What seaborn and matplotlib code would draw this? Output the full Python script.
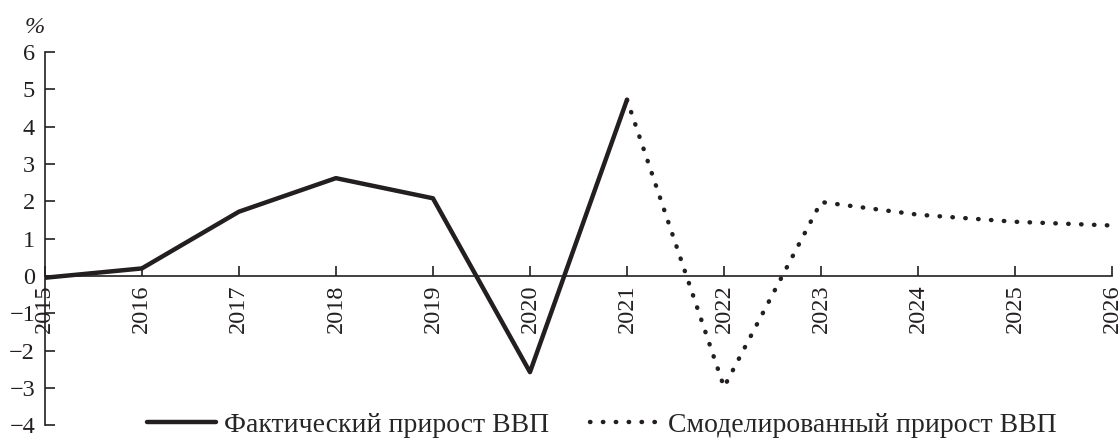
import numpy as np
import pandas as pd
import matplotlib
matplotlib.use('Agg')
import matplotlib.pyplot as plt
import seaborn as sns

# data
years_fact = [2015, 2016, 2017, 2018, 2019, 2020, 2021]
gdp_fact = [-0.05, 0.2, 1.72, 2.62, 2.08, -2.58, 4.72]
years_model = [2021, 2022, 2023, 2024, 2025, 2026]
gdp_model = [4.72, -2.98, 1.98, 1.64, 1.45, 1.35]
label_fact = 'Фактический прирост ВВП'
label_model = 'Смоделированный прирост ВВП'
y_ticks = list(range(-4, 7))
x_ticks = list(range(2015, 2027))

sns.set_style('ticks')
plt.rcParams['font.family'] = ['Liberation Serif', 'DejaVu Serif']

df_fact = pd.DataFrame({'year': years_fact, 'gdp': gdp_fact})
df_model = pd.DataFrame({'year': years_model, 'gdp': gdp_model})

fig = plt.figure(figsize=(11.2, 4.41), dpi=100)
ax = fig.add_axes([0.04, 0.036, 0.953, 0.846])

sns.lineplot(data=df_fact, x='year', y='gdp', ax=ax, color='#231f20',
             linewidth=3.2, label=label_fact, solid_capstyle='round')
sns.lineplot(data=df_model, x='year', y='gdp', ax=ax, color='#231f20',
             linewidth=3.2, linestyle=(0, (0.1, 2.8)), dash_capstyle='round',
             label=label_model)

ax.set_xlim(2015, 2026)
ax.set_ylim(-4, 6)
ax.set_xticks(x_ticks)
ax.set_yticks(y_ticks)
ax.set_yticklabels([f'\u2212{abs(v)}' if v < 0 else str(v) for v in y_ticks])
ax.set_xticklabels([str(x) for x in x_ticks])
ax.spines['bottom'].set_position(('data', 0))
ax.spines['top'].set_visible(False)
ax.spines['right'].set_visible(False)
for s in ['left', 'bottom']:
    ax.spines[s].set_color('#231f20')
    ax.spines[s].set_linewidth(1.2)
ax.tick_params(axis='both', direction='in', length=7, width=1.2,
               labelsize=17.5, colors='#231f20')
ax.tick_params(axis='y', pad=7)
ax.tick_params(axis='x', pad=6, labelrotation=90)
ax.set_xlabel('')
ax.set_ylabel('')
fig.text(0.022, 0.925, '%', fontsize=17.5, style='italic', color='#231f20')

ax.legend_.remove()
fig.legend(loc='center', bbox_to_anchor=(0.537, 0.036), ncol=2, frameon=False,
           fontsize=20, handlelength=2.5, columnspacing=1.45, handletextpad=0.3)

fig.savefig('out.png', dpi=100)
